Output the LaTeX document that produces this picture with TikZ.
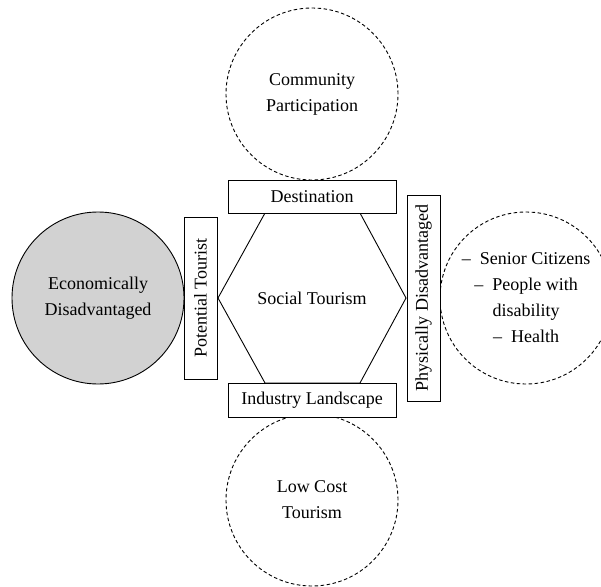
\documentclass[tikz,border=0pt]{standalone}
\usepackage{fontspec}
\setmainfont{Liberation Serif}
\begin{document}
\begin{tikzpicture}[x=1pt,y=-1pt,
  every node/.style={font=\fontsize{18}{26}\selectfont, align=center},
  dcirc/.style={circle, draw, dash pattern=on 3.5pt off 2.5pt, line width=0.9pt, minimum size=172pt, inner sep=0pt},
  gcirc/.style={circle, draw, line width=0.9pt, fill=gray!35, minimum size=172pt, inner sep=0pt},
  lbox/.style={draw, line width=0.9pt, inner sep=0pt, fill=white}]
\useasboundingbox (0,0) rectangle (601,586);
% circles
\node[dcirc] (cp) at (312,94) {Community\\Participation};
\node[dcirc] (lc) at (312,500) {Low Cost\\Tourism};
\node[dcirc] (pd) at (526,298) {--\enspace Senior Citizens\\--\enspace People with\\disability\\--\enspace Health};
\node[gcirc] (ed) at (98,298) {Economically\\Disadvantaged};
% hexagon
\coordinate (h1) at (265,213);
\coordinate (h2) at (360,213);
\coordinate (h3) at (406,298);
\coordinate (h4) at (360,383);
\coordinate (h5) at (265,383);
\coordinate (h6) at (218,298);
\draw[line width=0.9pt] (h1) -- (h2) -- (h3) -- (h4) -- (h5) -- (h6) -- cycle;
\node (st) at (312,298) {Social Tourism};
% boxes
\node[lbox, minimum width=168pt, minimum height=33pt] (dest) at (312,196.5) {Destination};
\node[lbox, minimum width=168pt, minimum height=34pt] (ind) at (312,400) {Industry Landscape};
\node[lbox, rotate=90, minimum width=162pt, minimum height=33pt] (pt) at (200.5,298) {Potential Tourist};
\node[lbox, rotate=90, minimum width=206pt, minimum height=33pt] (phy) at (423.5,298) {Physically Disadvantaged};
\end{tikzpicture}
\end{document}
